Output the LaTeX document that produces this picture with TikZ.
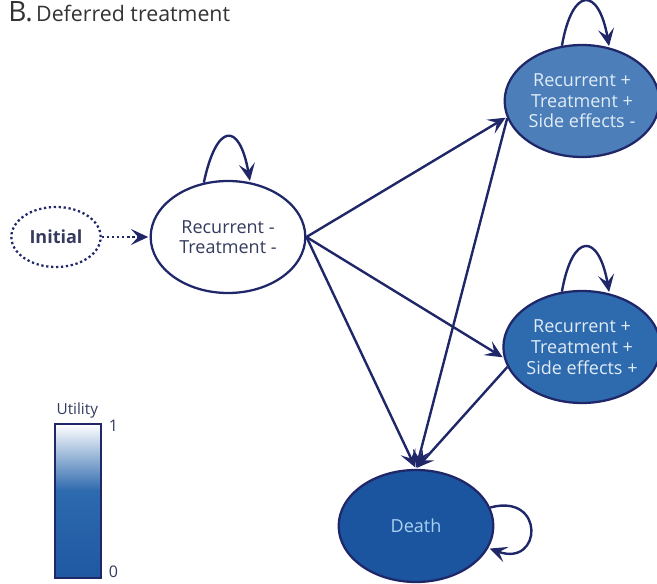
\documentclass[tikz,border=0pt]{standalone}
\usepackage{fontspec}
\setmainfont{Open Sans}
\usetikzlibrary{automata, positioning, arrows.meta, shapes.geometric}

\definecolor{navy}{HTML}{1F2768}
\definecolor{txtdark}{HTML}{353B5E}
\definecolor{fillA}{HTML}{4C7FB9}
\definecolor{fillB}{HTML}{2E6AAE}
\definecolor{fillC}{HTML}{1B55A0}
\definecolor{txtA}{HTML}{E0ECF7}
\definecolor{txtC}{HTML}{A9D2F2}

\tikzset{
  mstate/.style={ellipse, draw=navy, line width=1.7pt, minimum width=116pt,
    minimum height=84pt, inner sep=0pt, align=center,
    font=\fontsize{13.5}{15.5}\selectfont},
  trans/.style={draw=navy, line width=1.8pt}
}

\begin{document}
\begin{tikzpicture}[shorten >=1pt, on grid, auto,
    >={Stealth[length=13pt, width=12pt, inset=5.5pt]}]
        \useasboundingbox (0,0) rectangle (492.75pt,-438pt);

        \node[anchor=base west, text=black!80, inner sep=0pt] (title) at (6pt,-16pt)
            {{\fontsize{21}{21}\selectfont B.} \fontsize{16}{16}\selectfont Deferred treatment};

        \node[mstate, fill=white, text=txtdark] (rm) at (171pt,-177.75pt) {Recurrent -\\Treatment -};
        \node[ellipse, draw=navy, line width=1.7pt, dotted, minimum width=67pt, minimum height=45pt,
            inner sep=0pt, text=txtdark, font=\bfseries\fontsize{13.5}{15.5}\selectfont]
            (init) [left=129pt of rm] {Initial};
        \node[mstate, fill=fillA, text=txtA] (tr) [above right=102pt and 265.5pt of rm]
            {Recurrent +\\Treatment +\\Side effects -};
        \node[mstate, fill=fillB, text=txtA] (mr) [below=184.5pt of tr]
            {Recurrent +\\Treatment +\\Side effects +};
        \node[mstate, fill=fillC, text=txtC] (death) [below right=216.75pt and 141pt of rm] {Death};

        \draw[->, trans, dotted] (init) -- (rm);
        \draw[->, trans] (rm.114) to[out=78, in=100, looseness=3.4] (rm.68);
        \draw[->, trans] (rm.east) -- (tr.192);
        \draw[->, trans] (rm.east) -- (mr.188);
        \draw[->, trans] (rm.east) -- (death.north);
        \draw[->, trans] (tr.110) to[out=80, in=100, looseness=3.3] (tr.63);
        \draw[->, trans] (tr.193) -- (death.north);
        \draw[->, trans] (mr.110) to[out=80, in=100, looseness=3.3] (mr.63);
        \draw[->, trans] (mr.195) -- (death.north);
        \draw[->, trans] (death.14) to[out=15, in=-20, looseness=3.6] (death.-17);

        % utility scale
        \shade[top color=white, bottom color=fillB] (41.25pt,-318pt) rectangle (75.75pt,-368pt);
        \shade[top color=fillB, bottom color=fillC!85!fillB] (41.25pt,-368pt) rectangle (75.75pt,-433.5pt);
        \draw[navy, line width=0.8pt] (41.25pt,-318pt) rectangle (75.75pt,-433.5pt);
        \node[text=txtdark, font=\fontsize{11.5}{12}\selectfont, anchor=base] (scale) at (58pt,-311pt) {Utility};
        \node[text=txtdark, font=\fontsize{12}{12}\selectfont, anchor=base] (one) at (85pt,-323.5pt) {1};
        \node[text=txtdark, font=\fontsize{12}{12}\selectfont, anchor=base] (zero) at (85pt,-433pt) {0};
\end{tikzpicture}
\end{document}
